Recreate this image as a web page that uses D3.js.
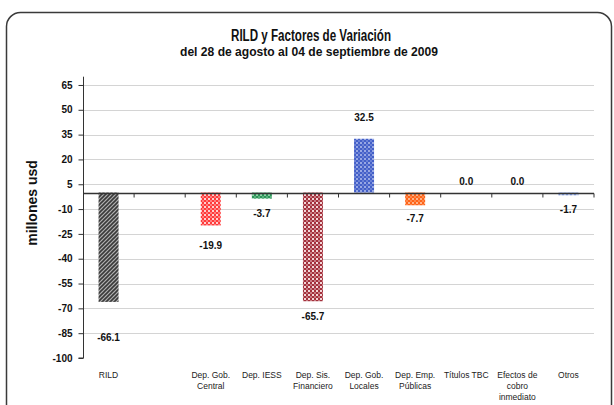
<!DOCTYPE html>
<html><head><meta charset="utf-8">
<script src="https://cdn.jsdelivr.net/npm/d3@7"></script>
<style>
body{margin:0;background:#fff;}
text{font-family:"Liberation Sans",Arial,sans-serif;}
</style></head>
<body><svg id="c" width="614" height="405"></svg>
<script>
// ---- data ----
const categories = ["RILD", "", "Dep. Gob.\nCentral", "Dep. IESS", "Dep. Sis.\nFinanciero", "Dep. Gob.\nLocales", "Dep. Emp.\nPúblicas", "Títulos TBC", "Efectos de\ncobro\ninmediato", "Otros"];
const values = [-66.1, null, -19.9, -3.7, -65.7, 32.5, -7.7, 0.0, 0.0, -1.7];
const valueLabels = ["-66.1", "", "-19.9", "-3.7", "-65.7", "32.5", "-7.7", "0.0", "0.0", "-1.7"];
const yTicks = [65, 50, 35, 20, 5, -10, -25, -40, -55, -70, -85, -100];
const titleText = "RILD y Factores de Variación";
const subtitleText = "del 28 de agosto al 04 de septiembre de 2009";
const yTitle = "millones usd";

// ---- styles / layout ----
const fills = [["#3a3a3a","#b0b0b0"],null,["#ff3b3b","#ffd0d0"],["#2b9558","#8fd3a8"],["#a3303c","#f2d6d8"],["#4460c8","#98a8e4"],["#ff6418","#ffb48a"],["#888","#ccc"],["#888","#ccc"],["#7f9be0","#c3d0f2"]];
const labelOffsets = [35, 0, 20, 14, 15, 22, 13, 12, 12, 14];

const svg = d3.select("#c");
const defs = svg.append("defs");
fills.forEach((f,i)=>{
  if(!f) return;
  const p = defs.append("pattern").attr("id","p"+i).attr("width",4).attr("height",4).attr("patternUnits","userSpaceOnUse");
  p.append("rect").attr("width",4).attr("height",4).attr("fill",f[1]);
  if(i===0){
    p.append("path").attr("d","M-1,1 L1,-1 M0,4 L4,0 M3,5 L5,3").attr("stroke",f[0]).attr("stroke-width",1.6);
  } else {
    p.append("rect").attr("width",2).attr("height",2).attr("fill",f[0]);
    p.append("rect").attr("x",2).attr("y",2).attr("width",2).attr("height",2).attr("fill",f[0]);
    p.append("rect").attr("x",2).attr("y",0).attr("width",2).attr("height",2).attr("fill",f[0]).attr("opacity",0.55);
  }
});

// outer frame
svg.append("rect").attr("x",6.5).attr("y",12.5).attr("width",605).attr("height",430).attr("rx",14)
  .attr("fill","none").attr("stroke","#3a3a3a").attr("stroke-width",1.5);

svg.append("text").attr("x",311).attr("y",41).attr("text-anchor","middle")
  .attr("font-size",16).attr("font-weight","bold").attr("fill","#111")
  .attr("textLength",160).attr("lengthAdjust","spacingAndGlyphs").text(titleText);
svg.append("text").attr("x",309).attr("y",56).attr("text-anchor","middle")
  .attr("font-size",12).attr("font-weight","bold").attr("fill","#111")
  .attr("textLength",258).attr("lengthAdjust","spacingAndGlyphs").text(subtitleText);

const x0 = 83, x1 = 594;
const y = d3.scaleLinear().domain([-100, 70]).range([358, 76.7]);
const x = d3.scaleBand().domain(d3.range(categories.length)).range([x0, x1]).paddingInner(0).paddingOuter(0);
const bw = 20;

// gridlines
svg.append("g").selectAll("line").data(yTicks.filter(t=>t>-100)).join("line")
  .attr("x1",x0).attr("x2",x1).attr("y1",d=>Math.round(y(d))+0.5).attr("y2",d=>Math.round(y(d))+0.5)
  .attr("stroke","#d4d4d4").attr("stroke-width",1);

// y axis
const yAxis = d3.axisLeft(y).tickValues(yTicks).tickSize(5).tickPadding(6).tickFormat(d=>String(d));
const ga = svg.append("g").attr("transform",`translate(${x0+0.5},0)`).call(yAxis);
ga.select(".domain").attr("stroke","#333").attr("d",`M-5,${y(-100)}H0V${y(70)}`);
ga.selectAll(".tick line").attr("stroke","#333");
ga.selectAll(".tick text").attr("font-size",10).attr("font-weight","bold").attr("fill","#111")
  .attr("font-family","Liberation Sans, Arial, sans-serif");

svg.append("text").attr("transform","translate(37,203) rotate(-90)").attr("text-anchor","middle")
  .attr("font-size",14).attr("font-weight","bold").attr("fill","#111").text(yTitle);

// bars
const data = values.map((v,i)=>({v,i}));
svg.append("g").selectAll("rect").data(data.filter(d=>d.v!==null && d.v!==0)).join("rect")
  .attr("x",d=>x(d.i)+x.bandwidth()/2-bw/2).attr("width",bw)
  .attr("y",d=>y(Math.max(0,d.v))).attr("height",d=>Math.abs(y(d.v)-y(0)))
  .attr("fill",d=>`url(#p${d.i})`);

// zero line + category ticks
const y0 = Math.round(y(0))+0.5;
svg.append("line").attr("x1",x0).attr("x2",x1).attr("y1",y0).attr("y2",y0).attr("stroke","#333").attr("stroke-width",1.3);
svg.append("g").selectAll("line").data(d3.range(1,categories.length+1)).join("line")
  .attr("x1",i=>x0+i*x.bandwidth()).attr("x2",i=>x0+i*x.bandwidth()).attr("y1",y0).attr("y2",y0+4)
  .attr("stroke","#333");

// value labels
svg.append("g").selectAll("text").data(data.filter(d=>d.v!==null)).join("text")
  .attr("x",d=>x(d.i)+x.bandwidth()/2).attr("text-anchor","middle")
  .attr("y",d=> d.v>=0 ? y(d.v)-labelOffsets[d.i]+4 : y(d.v)+labelOffsets[d.i]+4)
  .attr("font-size",10).attr("font-weight","bold").attr("fill","#111").text(d=>valueLabels[d.i]);

// category labels
const cl = svg.append("g").selectAll("text").data(categories.map((c,i)=>({c,i}))).join("text")
  .attr("x",d=>x(d.i)+x.bandwidth()/2).attr("y",378).attr("text-anchor","middle")
  .attr("font-size",8.5).attr("fill","#222");
cl.each(function(d){
  const t = d3.select(this);
  d.c.split("\n").forEach((s,k)=>t.append("tspan").attr("x",x(d.i)+x.bandwidth()/2).attr("dy",k?11:0).text(s));
});
</script></body></html>
